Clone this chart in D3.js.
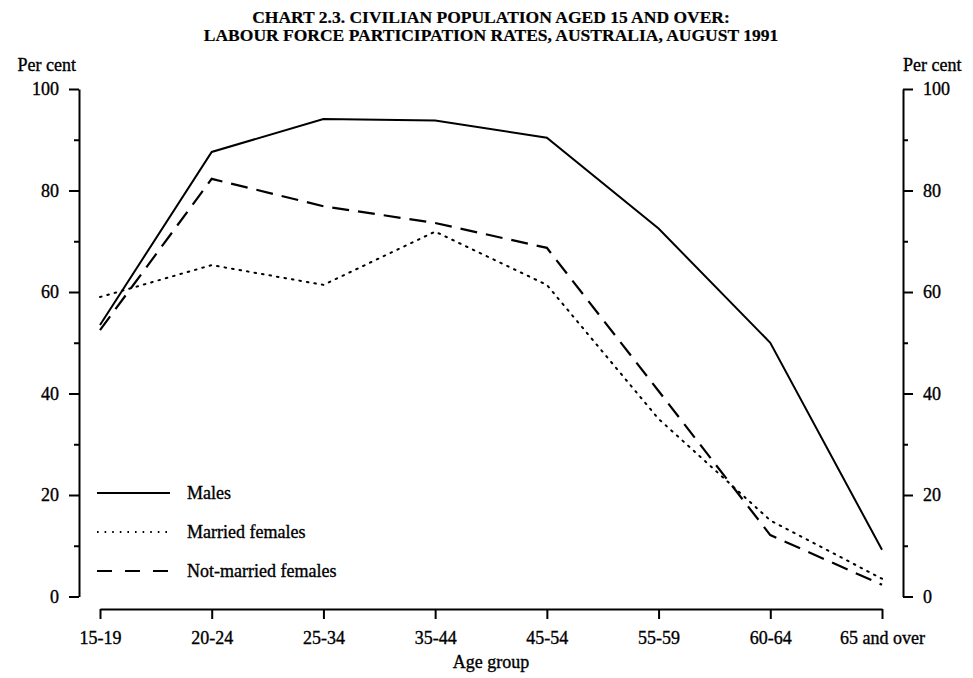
<!DOCTYPE html>
<html>
<head>
<meta charset="utf-8">
<script src="https://cdn.jsdelivr.net/npm/d3@7/dist/d3.min.js"></script>
<style>
  body { margin: 0; background: #fff; }
  svg { display: block; }
  text { font-family: "Liberation Serif", "Times New Roman", serif; fill: #000; stroke: #000; stroke-width: 0.35px; }
</style>
</head>
<body>
<div id="chart"></div>
<script>
(function() {
  'use strict';

  // 数据
  const ageGroups = ['15-19', '20-24', '25-34', '35-44', '45-54', '55-59', '60-64', '65 and over'];
  const males = [53.5, 87.6, 94.1, 93.8, 90.4, 72.5, 50, 9.2];
  const marriedFemales = [59, 65.3, 61.4, 71.9, 61.4, 35, 15, 3.5];
  const notMarriedFemales = [52.5, 82.3, 76.9, 73.6, 68.7, 40.5, 12.1, 2.3];
  const majorTicks = [0, 20, 40, 60, 80, 100];
  const minorTicks = [10, 30, 50, 70, 90];

  const series = [
    { name: 'Males', values: males, dash: null, width: 2 },
    { name: 'Married females', values: marriedFemales, dash: '1.6,6', width: 2 },
    { name: 'Not-married females', values: notMarriedFemales, dash: '17,9', width: 2.2 }
  ];

  const W = 973, H = 678;
  const svg = d3.select('#chart').append('svg')
    .attr('width', W).attr('height', H);

  const x = d3.scalePoint().domain(ageGroups).range([100, 882]);
  const y = d3.scaleLinear().domain([0, 100]).range([596.5, 89]);
  const leftX = 79, rightX = 903, axisY = 609;

  // 标题
  const title = svg.append('text')
    .attr('x', 491).attr('text-anchor', 'middle')
    .attr('font-weight', 'bold').attr('font-size', 17.5)
    .style('stroke-width', '0.2px');
  title.append('tspan').attr('x', 491).attr('y', 23)
    .text('CHART 2.3. CIVILIAN POPULATION AGED 15 AND OVER:');
  title.append('tspan').attr('x', 491).attr('y', 41)
    .text('LABOUR FORCE PARTICIPATION RATES, AUSTRALIA, AUGUST 1991');

  // Per cent
  svg.append('text').attr('x', 76).attr('y', 71).attr('text-anchor', 'end')
    .attr('font-size', 18).text('Per cent');
  svg.append('text').attr('x', 903).attr('y', 71)
    .attr('font-size', 18).text('Per cent');

  // 左轴
  const gl = svg.append('g').attr('transform', `translate(${leftX},0)`);
  gl.call(d3.axisLeft(y).tickValues(majorTicks).tickSize(10).tickSizeOuter(0).tickPadding(10));
  gl.append('g').call(d3.axisLeft(y).tickValues(minorTicks).tickSize(5).tickFormat(''))
    .select('.domain').remove();

  // 右轴
  const gr = svg.append('g').attr('transform', `translate(${rightX},0)`);
  gr.call(d3.axisRight(y).tickValues(majorTicks).tickSize(10).tickSizeOuter(0).tickPadding(10));
  gr.append('g').call(d3.axisRight(y).tickValues(minorTicks).tickSize(5).tickFormat(''))
    .select('.domain').remove();

  // x轴
  const gx = svg.append('g').attr('transform', `translate(0,${axisY})`);
  gx.call(d3.axisBottom(x).tickSize(10).tickSizeOuter(0).tickPadding(12));

  [gl, gr, gx].forEach(g => {
    g.selectAll('.domain').attr('stroke', '#000').attr('stroke-width', 2);
    g.selectAll('.tick line').attr('stroke', '#000').attr('stroke-width', 2);
    g.selectAll('.tick text').attr('font-family', '"Liberation Serif", serif')
      .attr('font-size', 18).attr('fill', '#000');
  });

  svg.append('text').attr('x', 491).attr('y', 668).attr('text-anchor', 'middle')
    .attr('font-size', 18).text('Age group');

  // 折线
  const line = d3.line()
    .x((d, i) => x(ageGroups[i]))
    .y(d => y(d));

  series.forEach(s => {
    svg.append('path')
      .datum(s.values)
      .attr('d', line)
      .attr('fill', 'none')
      .attr('stroke', '#000')
      .attr('stroke-width', s.width)
      .attr('stroke-linecap', s.dash === '1.6,6' ? 'round' : 'butt')
      .attr('stroke-dasharray', s.dash);
  });

  // 图例
  const legend = svg.append('g');
  series.forEach((s, i) => {
    const ly = 493 + i * 39;
    legend.append('line')
      .attr('x1', 97).attr('x2', 170).attr('y1', ly).attr('y2', ly)
      .attr('stroke', '#000').attr('stroke-width', s.width)
      .attr('stroke-dasharray', s.dash === '17,9' ? '15,13' : s.dash);
    legend.append('text')
      .attr('x', 187).attr('y', ly + 6)
      .attr('font-size', 18).text(s.name);
  });
})();
</script>
</body>
</html>
